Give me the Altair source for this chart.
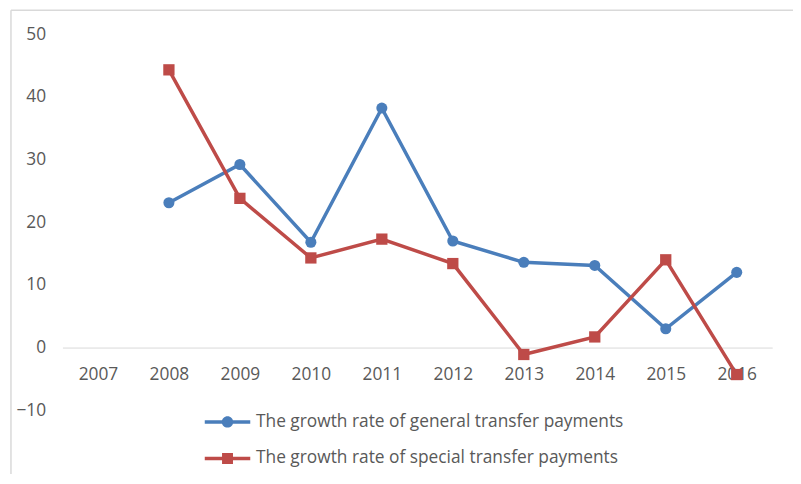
import altair as alt
import pandas as pd

years = ["2007", "2008", "2009", "2010", "2011", "2012", "2013", "2014", "2015", "2016"]
data_years = ["2008", "2009", "2010", "2011", "2012", "2013", "2014", "2015", "2016"]
general = [23.1, 29.2, 16.8, 38.2, 17.0, 13.6, 13.1, 3.0, 12.0]
special = [44.3, 23.8, 14.3, 17.3, 13.4, -1.1, 1.7, 14.0, -4.3]
series_names = [
    "The growth rate of general transfer payments",
    "The growth rate of special transfer payments",
]
colors = ["#4A7EBB", "#BE4B48"]

rows = []
for y, v in zip(data_years, general):
    rows.append({"year": y, "series": series_names[0], "value": v})
for y, v in zip(data_years, special):
    rows.append({"year": y, "series": series_names[1], "value": v})
df = pd.DataFrame(rows)

FONT = "Open Sans"
GRAY = "#595959"
W, H = 717, 380

legend = alt.Legend(
    title=None,
    orient="none",
    direction="vertical",
    legendX=158,
    legendY=383,
    padding=0,
    rowPadding=18,
    labelOffset=20,
    labelFont=FONT,
    labelFontSize=17.5,
    labelColor=GRAY,
    symbolSize=144,
    symbolStrokeWidth=0,
    symbolOpacity=1,
    labelLimit=700,
)

x = alt.X(
    "year:O",
    scale=alt.Scale(type="point", domain=years, padding=0.5),
    axis=alt.Axis(
        title=None,
        labelAngle=0,
        ticks=False,
        tickSize=0,
        grid=False,
        domainColor="#D9D9D9",
        domainWidth=1,
        offset=-H * 10 / 60,
        labelPadding=18,
        labelFont=FONT,
        labelFontSize=17.5,
        labelColor=GRAY,
    ),
)
y = alt.Y(
    "value:Q",
    scale=alt.Scale(domain=[-10, 50], nice=False, zero=False),
    axis=alt.Axis(
        title=None,
        values=[-10, 0, 10, 20, 30, 40, 50],
        domain=False,
        ticks=False,
        grid=False,
        labelPadding=17,
        labelFont=FONT,
        labelFontSize=17.5,
        labelColor=GRAY,
    ),
)
color = alt.Color(
    "series:N",
    scale=alt.Scale(domain=series_names, range=colors),
    legend=legend,
)

circle_path = "M-3.83,-0.29H3.83V0.29H-3.83Z M0.96,0A0.96,0.96 0 1,1 -0.96,0A0.96,0.96 0 1,1 0.96,0Z"
square_path = "M-3.83,-0.29H3.83V0.29H-3.83Z M-0.92,-0.92H0.92V0.92H-0.92Z"

base = alt.Chart(df)

lines = base.mark_line(strokeWidth=3.5).encode(x=x, y=y, color=color)
circles = base.transform_filter(alt.datum.series == series_names[0]).mark_point(
    shape="circle", filled=True, size=125, opacity=1
).encode(x=x, y=y, color=color)
squares = base.transform_filter(alt.datum.series == series_names[1]).mark_point(
    shape="square", filled=True, size=130, opacity=1
).encode(x=x, y=y, color=color)
legend_layer = base.transform_filter("false").mark_point(filled=True, opacity=1).encode(
    x=x,
    y=y,
    color=color,
    shape=alt.Shape(
        "series:N",
        scale=alt.Scale(domain=series_names, range=[circle_path, square_path]),
        legend=legend,
    ),
)

frame_df = pd.DataFrame({"k": [0]})
frame_left = alt.Chart(frame_df).mark_rule(color="#D9D9D9", strokeWidth=1.5).encode(
    x=alt.value(-52), y=alt.value(-24), y2=alt.value(H + 100)
)
frame_top = alt.Chart(frame_df).mark_rule(color="#D9D9D9", strokeWidth=1.5).encode(
    x=alt.value(-52), x2=alt.value(W + 30), y=alt.value(-24)
)

chart = (
    alt.layer(legend_layer, frame_left, frame_top, lines, circles, squares)
    .properties(
        width=W,
        height=H,
        autosize=alt.AutoSizeParams(type="none"),
        padding={"left": 55, "top": 24, "right": 21, "bottom": 62},
    )
    .configure_view(stroke=None)
)

chart.save("out.html", embed_options={"renderer": "svg", "actions": False})
